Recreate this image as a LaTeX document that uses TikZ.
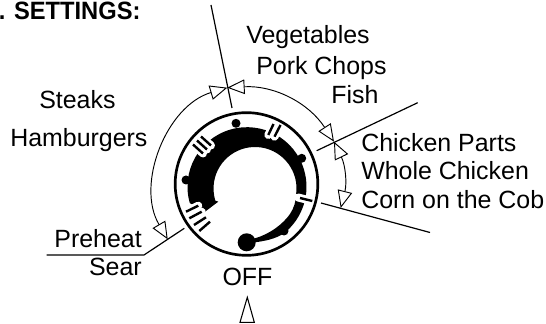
\documentclass[tikz,border=0pt]{standalone}
\usepackage{xcolor}
\usepackage{fontspec}
\setmainfont{Liberation Sans}
\usetikzlibrary{arrows.meta,positioning,calc}

\begin{document}
\begin{tikzpicture}[
  x=0.75pt, y=0.75pt,
  lbl/.style={inner sep=0, font=\fontsize{18.7}{22}\selectfont},
  lblw/.style={lbl, anchor=base west},
  lble/.style={lbl, anchor=base east},
  head/.style={inner sep=0, anchor=base west, font=\fontsize{18.8}{22}\selectfont\bfseries},
  divider/.style={line width=0.9pt},
  foodspan/.style={line width=0.7pt, {Triangle[open,fill=white,length=13pt,width=11pt,line width=0.7pt]}-{Triangle[open,fill=white,length=13pt,width=11pt,line width=0.7pt]}},
  slot/.style={white, line width=6pt, line cap=round},
  bar/.style={black, line width=1.8pt}
]
\useasboundingbox (0,0) rectangle (546,324);
% labels
\node[head] (title) at (-1.5,304.7) {\scalebox{0.945}[1]{. SETTINGS:}};
\node[lblw] (veg) at (246,280) {Vegetables};
\node[lblw] (pork) at (256,249) {Pork Chops};
\node[lblw] (fish) at (331,220) {Fish};
\node[lblw] (steaks) at (39,215.5) {Steaks};
\node[lblw] (burgers) at (10,177) {Hamburgers};
\node[lblw] (parts) at (361,172.3) {Chicken Parts};
\node[lblw] (whole) at (361,144) {Whole Chicken};
\node[lblw] (corn) at (361,115) {Corn on the Cob};
\node[lble] (preheat) at (142,76) {Preheat};
\node[lble] (sear) at (142,48) {Sear};
\node[lbl, anchor=base] (off) at (247.5,38) {OFF};
% divider ends
\coordinate (ta) at (211,319);
\coordinate (tb) at (232,216);
\coordinate (ra) at (316.7,173.3);
\coordinate (rb) at (417.7,221.3);
\coordinate (sa) at (321,121);
\coordinate (sb) at (430,91.5);
\coordinate (pa) at (46.7,69);
\coordinate (pb) at (144,69);
\coordinate (pc) at (184.3,95.7);
% span arrow tips
\coordinate (xtop) at (227.3,236.3);
\coordinate (xright) at (334,182.3);
\coordinate (xlow) at (340.7,116);
\coordinate (xpre) at (167.7,84.7);
% band
\fill (247,137.3) ++(196:59.5) arc (196:-52:59.5)
  .. controls (275,85) and (265,83) .. (255,81.7) -- (255,85.7)
  .. controls (270,90) and (283,100) .. (290,110)
  .. controls (294,116) and (296,123) .. (296,129)
  arc (-9:197:41.5) -- (218.3,122.3) -- (205,112.3) -- cycle;
\foreach \x/\y in {236/200.7, 301.7/165.7, 186/144, 284/93}
  \fill (\x,\y) circle (4.5);
\node[circle, fill, inner sep=0, minimum size=13.5pt] (knob) at (246.7,81.7) {};
% ticks
\foreach \a/\b/\c/\d in {193/179.5/203/170.5, 197/183.5/207/174.5, 201/187.5/211/178.5,
    268.3/189/273.5/200, 274.5/187.3/280.5/199, 298/126.5/306/124.5,
    186/112.3/198.3/118.3, 189.3/105.7/201.7/112.3}
  \draw[slot] (\a,\b) -- (\c,\d);
\foreach \a/\b/\c/\d in {193/179.5/203/170.5, 197/183.5/207/174.5, 201/187.5/211/178.5,
    268.3/189/273.5/200, 274.5/187.3/280.5/199, 300/126/312.3/123,
    186/112.3/198.3/118.3, 189.3/105.7/201.7/112.3, 194/99/206/106.7, 199.3/93/210/102.3}
  \draw[bar] (\a,\b) -- (\c,\d);
% dial
\node[circle, draw, line width=2pt, inner sep=0, minimum size=107pt] (dial) at (246.5,140) {};
% dividers
\draw[divider] (ta) -- (tb);
\draw[divider] (ra) -- (rb);
\draw[divider] (sa) -- (sb);
\draw[divider] (pa) -- (pb) -- (pc);
% spans
\draw[foodspan] (xpre) to[bend left=52] (xtop);
\draw[foodspan] (xtop) to[bend left=30] (xright);
\draw[foodspan] (xright) to[bend left=20] (xlow);
% off mark
\draw[line width=0.8pt] (247.3,26.7) -- (240,1.7) -- (254.3,1.7) -- cycle;
\end{tikzpicture}
\end{document}
